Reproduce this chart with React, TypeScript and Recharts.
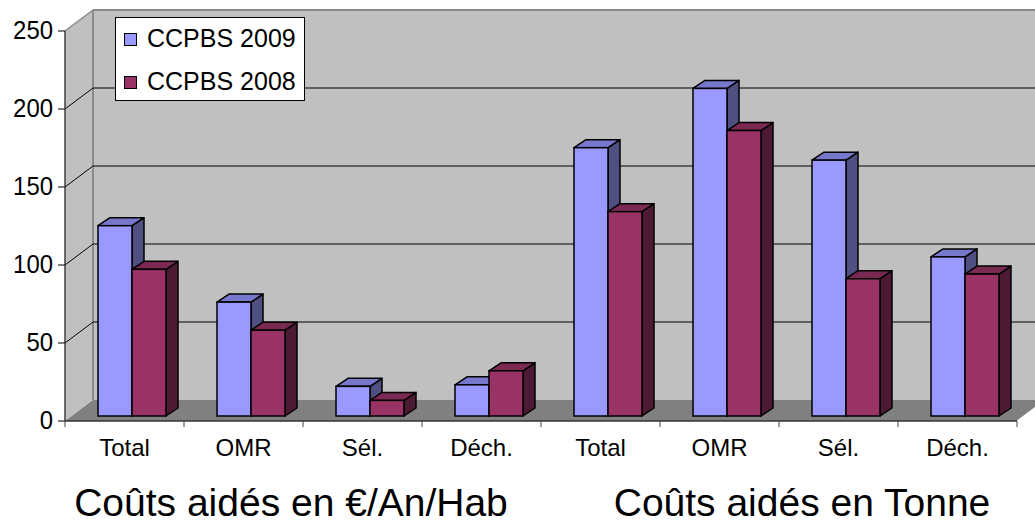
import React from 'react';
import { BarChart, Bar, XAxis, YAxis, CartesianGrid, Legend } from 'recharts';

const categories = ['Total', 'OMR', 'Sél.', 'Déch.', 'Total', 'OMR', 'Sél.', 'Déch.'];
const ccpbs2009 = [122, 73, 19, 20, 172, 210, 164, 102];
const ccpbs2008 = [94, 55, 10, 29, 131, 183, 88, 91];
const yTicks = [0, 50, 100, 150, 200, 250];
const groupTitles = ['Coûts aidés en €/An/Hab', 'Coûts aidés en Tonne'];
const seriesNames = ['CCPBS 2009', 'CCPBS 2008'];

const data = categories.map((c, i) => ({ cat: c, s2009: ccpbs2009[i], s2008: ccpbs2008[i] }));

const FONT = '"Liberation Sans", Arial, sans-serif';
const WALL_DX = 28;
const WALL_DY = 21;
const BAR_SHIFT_X = 7;
const BAR_SHIFT_Y = 5;
const BAR_DX = 12;
const BAR_DY = 8;

const gridLine = (p: any) => {
  const { x1, y1, x2, index, x, y, width, height } = p;
  const bottom = y + height;
  const isBottom = Math.abs(y1 - bottom) < 0.5;
  const isTop = Math.abs(y1 - y) < 0.5;
  return (
    <g key={`gl-${index}`}>
      {index === 0 && (
        <g>
          <polygon
            points={`${x},${y} ${x + WALL_DX},${y - WALL_DY} ${x + WALL_DX},${bottom - WALL_DY} ${x},${bottom}`}
            fill="#c0c0c0"
          />
          <rect x={x + WALL_DX} y={y - WALL_DY} width={width} height={height} fill="#c0c0c0" />
          <polygon
            points={`${x},${bottom} ${x + WALL_DX},${bottom - WALL_DY} ${x + width + WALL_DX},${bottom - WALL_DY} ${x + width},${bottom}`}
            fill="#808080"
          />
          <line x1={x + WALL_DX} y1={y - WALL_DY} x2={x + WALL_DX} y2={bottom - WALL_DY} stroke="#8a8a8a" strokeWidth={2} />
          <line x1={x + WALL_DX} y1={y - WALL_DY} x2={x + width + WALL_DX} y2={y - WALL_DY} stroke="#8a8a8a" strokeWidth={2} />
          <line x1={x} y1={y} x2={x + WALL_DX} y2={y - WALL_DY} stroke="#8a8a8a" strokeWidth={1.5} />
          <line x1={x + width} y1={bottom} x2={x + width + WALL_DX} y2={bottom - WALL_DY} stroke="#ffffff" strokeWidth={1} />
        </g>
      )}
      {!isBottom && !isTop && (
        <g>
          <line x1={x1 + WALL_DX} y1={y1 - WALL_DY} x2={x2 + WALL_DX} y2={y1 - WALL_DY} stroke="#000" strokeWidth={1} />
          <line x1={x1} y1={y1} x2={x1 + WALL_DX} y2={y1 - WALL_DY} stroke="#000" strokeWidth={1} />
        </g>
      )}
    </g>
  );
};

const make3D = (front: string, top: string, side: string) => (props: any) => {
  const { x, y, width, height } = props;
  if (x == null || y == null || !width || height == null) return <g />;
  const X = x + BAR_SHIFT_X;
  const Y = y - BAR_SHIFT_Y;
  const w = width;
  const h = height;
  return (
    <g>
      <polygon
        points={`${X + w},${Y} ${X + w + BAR_DX},${Y - BAR_DY} ${X + w + BAR_DX},${Y + h - BAR_DY} ${X + w},${Y + h}`}
        fill={side}
        stroke="#000"
        strokeWidth={1.5}
        strokeLinejoin="round"
      />
      <polygon
        points={`${X},${Y} ${X + BAR_DX},${Y - BAR_DY} ${X + w + BAR_DX},${Y - BAR_DY} ${X + w},${Y}`}
        fill={top}
        stroke="#000"
        strokeWidth={1.5}
        strokeLinejoin="round"
      />
      <rect x={X} y={Y} width={w} height={h} fill={front} stroke="#000" strokeWidth={1.5} />
    </g>
  );
};

const XTick = (p: any) => {
  const { x, y, payload, index, width, visibleTicksCount } = p;
  const bw = width && visibleTicksCount ? width / visibleTicksCount : 119;
  return (
    <g>
      <line x1={x - bw / 2} y1={y} x2={x - bw / 2} y2={y + 6} stroke="#444" strokeWidth={1} />
      {index === visibleTicksCount - 1 && (
        <line x1={x + bw / 2} y1={y} x2={x + bw / 2} y2={y + 6} stroke="#444" strokeWidth={1} />
      )}
      <text x={x} y={y + 35} textAnchor="middle" fontSize={24} fontFamily={FONT} fill="#000">
        {payload.value}
      </text>
    </g>
  );
};

const YTick = (p: any) => {
  const { x, y, payload } = p;
  return (
    <text
      x={x}
      y={y}
      dy={8}
      textAnchor="end"
      fontSize={26}
      fontFamily={FONT}
      fill="#000"
      transform={`translate(${x} ${y}) scale(0.92 1) translate(${-x} ${-y})`}
    >
      {payload.value}
    </text>
  );
};

const renderLegend = (props: any) => {
  const payload = props.payload || [];
  const ordered = seriesNames
    .map((n) => payload.find((p: any) => p.value === n))
    .filter(Boolean);
  return (
    <div
      style={{
        width: 190,
        height: 84,
        boxSizing: 'border-box',
        border: '1px solid #000',
        background: '#fff',
        position: 'relative',
        fontFamily: FONT,
        fontSize: 25,
        color: '#000',
      }}
    >
      {ordered.map((p: any, i: number) => (
        <React.Fragment key={i}>
          <span
            style={{
              position: 'absolute',
              left: 8,
              top: 15 + i * 43,
              width: 11,
              height: 11,
              border: '1px solid #000',
              background: p.color,
            }}
          />
          <span
            style={{
              position: 'absolute',
              left: 31,
              top: 8 + i * 43,
              lineHeight: '25px',
              whiteSpace: 'nowrap',
            }}
          >
            {p.value}
          </span>
        </React.Fragment>
      ))}
    </div>
  );
};

export default function App() {
  return (
    <div style={{ position: 'absolute', left: 0, top: 0, width: 1035, height: 523, background: '#fff' }}>
      <BarChart
        width={1035}
        height={523}
        data={data}
        margin={{ top: 31, right: 18, bottom: 0, left: 0 }}
        barGap={0}
        barSize={34}
      >
        <CartesianGrid vertical={false} horizontal={gridLine} stroke="#000" />
        <XAxis
          dataKey="cat"
          height={102}
          axisLine={{ stroke: '#333', strokeWidth: 1.5 }}
          tickLine={false}
          tickSize={0}
          tickMargin={0}
          interval={0}
          tick={XTick}
        />
        <YAxis
          domain={[0, 250]}
          ticks={yTicks}
          width={65}
          tickSize={7}
          tickMargin={5}
          interval={0}
          axisLine={{ stroke: '#404040', strokeWidth: 1.5 }}
          tickLine={{ stroke: '#000', strokeWidth: 1 }}
          tick={YTick}
        />
        <Legend
          layout="vertical"
          align="center"
          verticalAlign="middle"
          wrapperStyle={{ left: 115, top: 17, width: 190, height: 84 }}
          content={renderLegend}
        />
        <Bar
          dataKey="s2009"
          name={seriesNames[0]}
          fill="#9999ff"
          isAnimationActive={false}
          shape={make3D('#9999ff', '#7777cc', '#4f4f82')}
        />
        <Bar
          dataKey="s2008"
          name={seriesNames[1]}
          fill="#993366"
          isAnimationActive={false}
          shape={make3D('#993366', '#7a2952', '#4d1a33')}
        />
        <text x={291} y={516} textAnchor="middle" fontSize={39} fontFamily={FONT} fill="#000">
          {groupTitles[0]}
        </text>
        <text x={802} y={516} textAnchor="middle" fontSize={39} fontFamily={FONT} fill="#000">
          {groupTitles[1]}
        </text>
      </BarChart>
    </div>
  );
}
